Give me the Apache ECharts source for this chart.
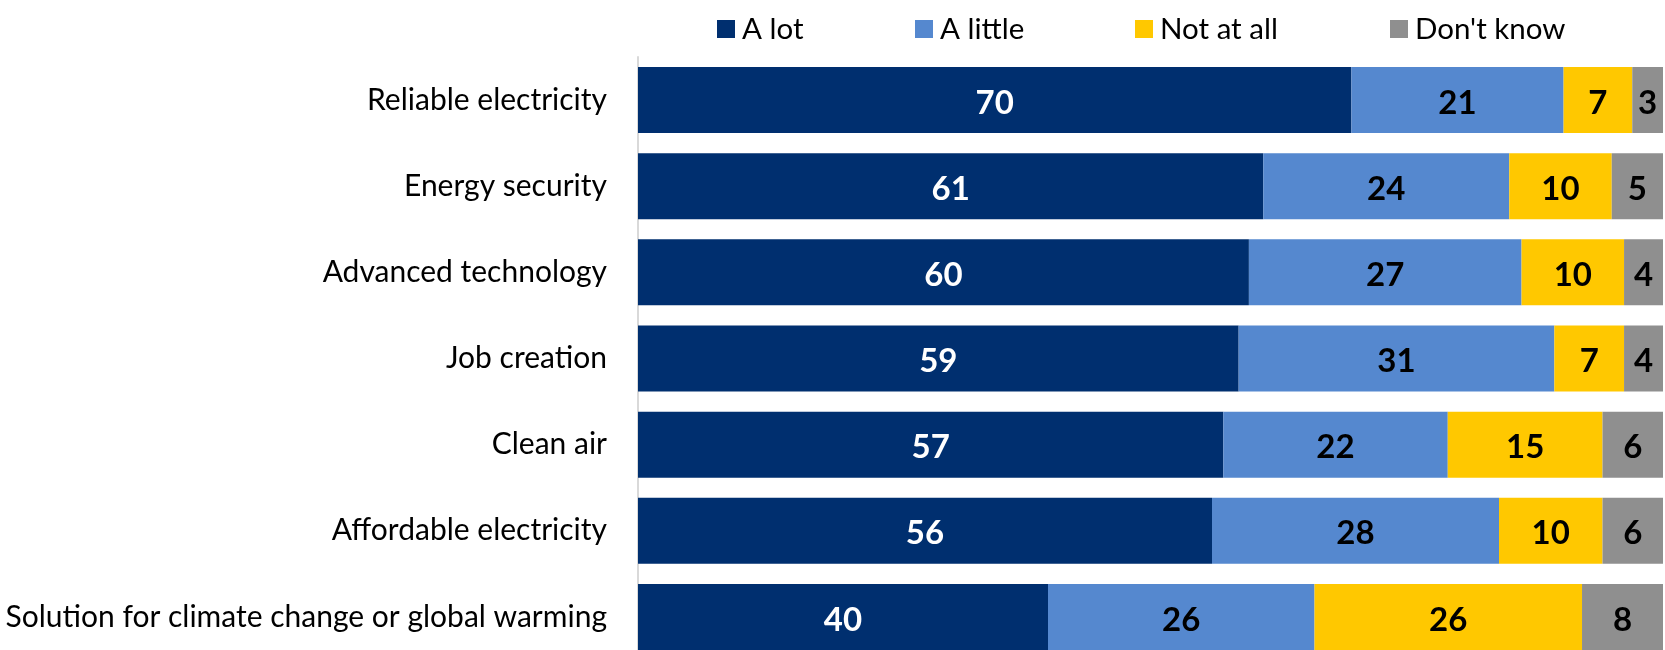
<!DOCTYPE html>
<html>
<head>
<meta charset="utf-8">
<script src="https://cdn.jsdelivr.net/npm/echarts@6/dist/echarts.min.js"></script>
<style>
html,body{margin:0;padding:0;background:#fff;}
#chart{width:1665px;height:650px;}
</style>
</head>
<body>
<div id="chart"></div>
<script>
const categories = [
  "Reliable electricity",
  "Energy security",
  "Advanced technology",
  "Job creation",
  "Clean air",
  "Affordable electricity",
  "Solution for climate change or global warming"
];
const seriesNames = ["A lot", "A little", "Not at all", "Don't know"];
const aLot      = [69.6, 61.0, 59.6, 58.6, 57.1, 56.0, 40.0];
const aLittle   = [20.7, 24.0, 26.6, 30.8, 21.9, 28.0, 26.0];
const notAtAll  = [6.7, 10.0, 10.0, 6.8, 15.1, 10.1, 26.1];
const dontKnow  = [3.0, 5.0, 3.8, 3.8, 5.9, 5.9, 7.9];

const colors = ["#002f6f", "#5588cf", "#ffc800", "#8f8f8f"];
const labelColors = ["#ffffff", "#000000", "#000000", "#000000"];
const values = [aLot, aLittle, notAtAll, dontKnow];
const FONT = "Lato";

const legendLefts = [717, 915, 1135, 1390];

const chart = echarts.init(document.getElementById('chart'), null, {renderer: 'canvas'});
const option = {
  animation: false,
  backgroundColor: '#ffffff',
  legend: seriesNames.map((n, i) => ({
    data: [n],
    left: legendLefts[i],
    top: 14,
    padding: 0,
    itemWidth: 18,
    itemHeight: 18,
    icon: 'rect',
    selectedMode: false,
    textStyle: {fontFamily: FONT, fontSize: 29.5, color: '#000000', padding: [3, 0, 0, 2]}
  })),
  grid: {left: 638, top: 57, width: 1025, height: 603, containLabel: false, outerBoundsMode: 'none'},
  xAxis: {type: 'value', min: 0, max: 100, show: false},
  yAxis: {
    type: 'category',
    data: categories,
    inverse: true,
    axisLine: {show: true, lineStyle: {color: '#d9d9d9', width: 2}},
    axisTick: {show: false},
    splitLine: {show: false},
    axisLabel: {fontFamily: FONT, fontSize: 30, color: '#000000', margin: 31, padding: [7, 0, 0, 0]}
  },
  series: seriesNames.map((n, i) => ({
    name: n,
    type: 'bar',
    stack: 'total',
    barWidth: 66,
    data: values[i],
    itemStyle: {color: colors[i]},
    label: {
      show: true,
      position: 'inside',
      offset: [0, 3],
      formatter: p => String(Math.round(p.value)),
      fontFamily: FONT,
      fontSize: 33,
      fontWeight: 'bold',
      color: labelColors[i]
    }
  }))
};
chart.setOption(option);
</script>
</body>
</html>
